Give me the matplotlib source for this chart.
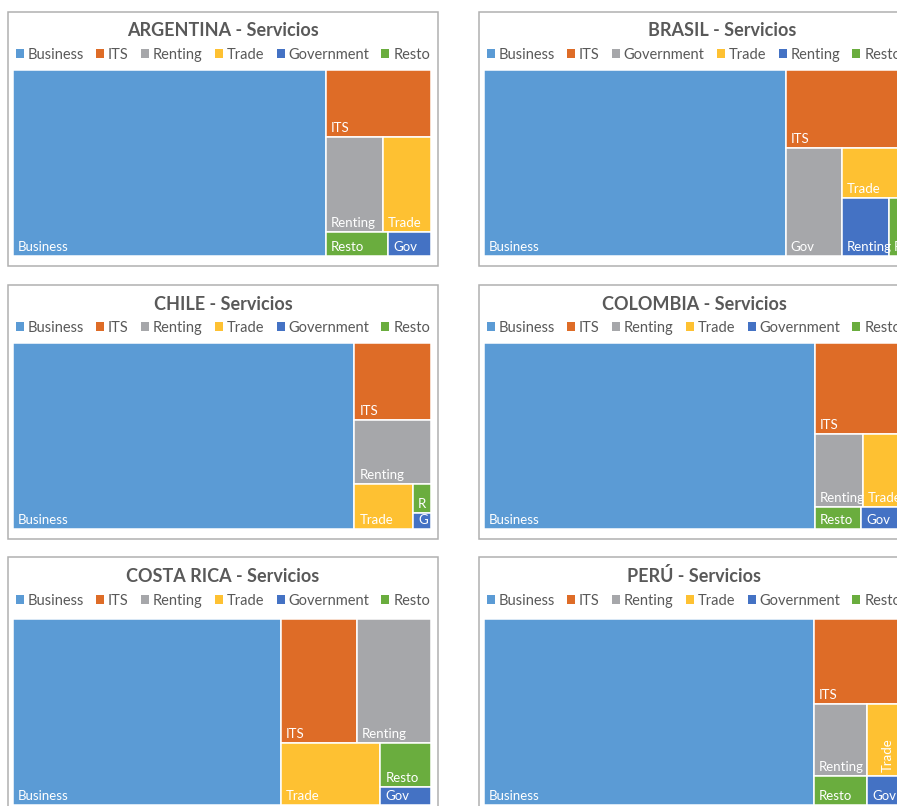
import matplotlib
matplotlib.use('Agg')
import matplotlib.pyplot as plt
from matplotlib.patches import Rectangle, Patch

plt.rcParams['font.family'] = ['Lato', 'DejaVu Sans']

# --- Data (shares of services exports, %) ---
COUNTRIES = ['ARGENTINA', 'BRASIL', 'CHILE', 'COLOMBIA', 'COSTA RICA', 'PERÚ']
SECTORS = ['Business', 'ITS', 'Renting', 'Trade', 'Government', 'Resto']
SECTORS_BRASIL = ['Business', 'ITS', 'Government', 'Trade', 'Renting', 'Resto']

ARGENTINA = [74.8, 9.0, 7.0, 5.9, 1.3, 1.9]
BRASIL = [72.1, 11.6, 7.8, 3.9, 3.5, 1.0]
CHILE = [81.7, 7.6, 6.3, 3.4, 0.37, 0.67]
COLOMBIA = [79.2, 10.2, 4.5, 3.7, 1.16, 1.3]
COSTA_RICA = [64.0, 12.1, 11.8, 8.0, 1.15, 2.9]
PERU = [78.9, 9.6, 4.9, 3.3, 1.3, 2.0]

VALUES = [ARGENTINA, BRASIL, CHILE, COLOMBIA, COSTA_RICA, PERU]
LEGENDS = [SECTORS, SECTORS_BRASIL, SECTORS, SECTORS, SECTORS, SECTORS]

# labels shown inside the boxes
SHORT = {'Government': 'Gov'}
SHORT_BY_COUNTRY = {'CHILE': {'Resto': 'R', 'Government': 'G'},
                    'BRASIL': {'Resto': 'R'}}
ROTATED = {'PERÚ': ['Trade']}
TITLE_SHIFT = {'BRASIL': 28}

COLORS = ['#5B9BD5', '#DE6C27', '#A6A7AA', '#FEC132', '#4472C4', '#6AAD3E']
TEXT_GREY = '#595959'

# --- Layout (pixels) ---
W, H = 897, 806
PANEL_X = [8, 479]
PANEL_Y = [12, 285, 557]
PANEL_H = [254, 254, 258]
LEGEND_Y = [43, 43, 44]
PANEL_W = 430
TM_W, TM_H = 418, 186


def worst(row, side):
    s = sum(row)
    return max(max(side * side * r / (s * s), s * s / (side * side * r)) for r in row)


def squarify(areas, x, y, w, h):
    # squarified treemap, y grows downward
    rects = []
    i = 0
    while i < len(areas):
        vertical = w >= h
        side = h if vertical else w
        row = [areas[i]]
        j = i + 1
        while j < len(areas) and worst(row + [areas[j]], side) <= worst(row, side):
            row.append(areas[j])
            j += 1
        thick = sum(row) / side
        off = 0
        for a in row:
            length = a / thick
            if vertical:
                rects.append((x, y + off, thick, length))
            else:
                rects.append((x + off, y, length, thick))
            off += length
        if vertical:
            x += thick
            w -= thick
        else:
            y += thick
            h -= thick
        i = j
    return rects


fig = plt.figure(figsize=(W / 100, H / 100), dpi=100)

for k, country in enumerate(COUNTRIES):
    col, row = k % 2, k // 2
    px, py, ph = PANEL_X[col], PANEL_Y[row], PANEL_H[row]
    ax = fig.add_axes([px / W, 1 - (py + ph) / H, PANEL_W / W, ph / H])
    ax.set_xlim(0, PANEL_W)
    ax.set_ylim(ph, 0)
    ax.axis('off')

    ax.add_patch(Rectangle((0, 0), PANEL_W, ph, facecolor='white',
                           edgecolor='#B0B0B0', lw=1.1, clip_on=False, zorder=0))

    ax.text(PANEL_W / 2 + TITLE_SHIFT.get(country, 0), 19, f'{country} - Servicios',
            ha='center', va='center', fontsize=13, fontweight='bold', color=TEXT_GREY)

    sectors = LEGENDS[k]
    vals = VALUES[k]
    handles = [Patch(facecolor=COLORS[i], edgecolor='none') for i in range(len(sectors))]
    ax.legend(handles, sectors, loc='center', ncol=6, mode='expand',
              bbox_to_anchor=(8 / PANEL_W, 1 - LEGEND_Y[row] / ph, 414 / PANEL_W, 0),
              frameon=False, fontsize=10.5, labelcolor=TEXT_GREY,
              handlelength=0.55, handleheight=0.55, handletextpad=0.25,
              borderaxespad=0, borderpad=0, columnspacing=0.5)

    # treemap, sorted by value
    order = sorted(range(len(vals)), key=lambda i: -vals[i])
    total = sum(vals)
    areas = [vals[i] / total * TM_W * TM_H for i in order]
    x0, y0 = 5, ph - 10 - TM_H
    rects = squarify(areas, x0, y0, TM_W, TM_H)

    for idx, (rx, ry, rw, rh) in zip(order, rects):
        name = sectors[idx]
        ax.add_patch(Rectangle((rx, ry), rw, rh, facecolor=COLORS[idx],
                               edgecolor='white', lw=1.1))
        label = SHORT_BY_COUNTRY.get(country, {}).get(name, SHORT.get(name, name))
        if name in ROTATED.get(country, []):
            ax.text(rx + rw / 2 + 3, ry + rh - 4, label, rotation=90, ha='center',
                    va='bottom', color='white', fontsize=9.5)
        else:
            ax.text(rx + 5, ry + rh - 5, label, ha='left', va='baseline',
                    color='white', fontsize=9.5)

fig.savefig('out.png', dpi=100)
